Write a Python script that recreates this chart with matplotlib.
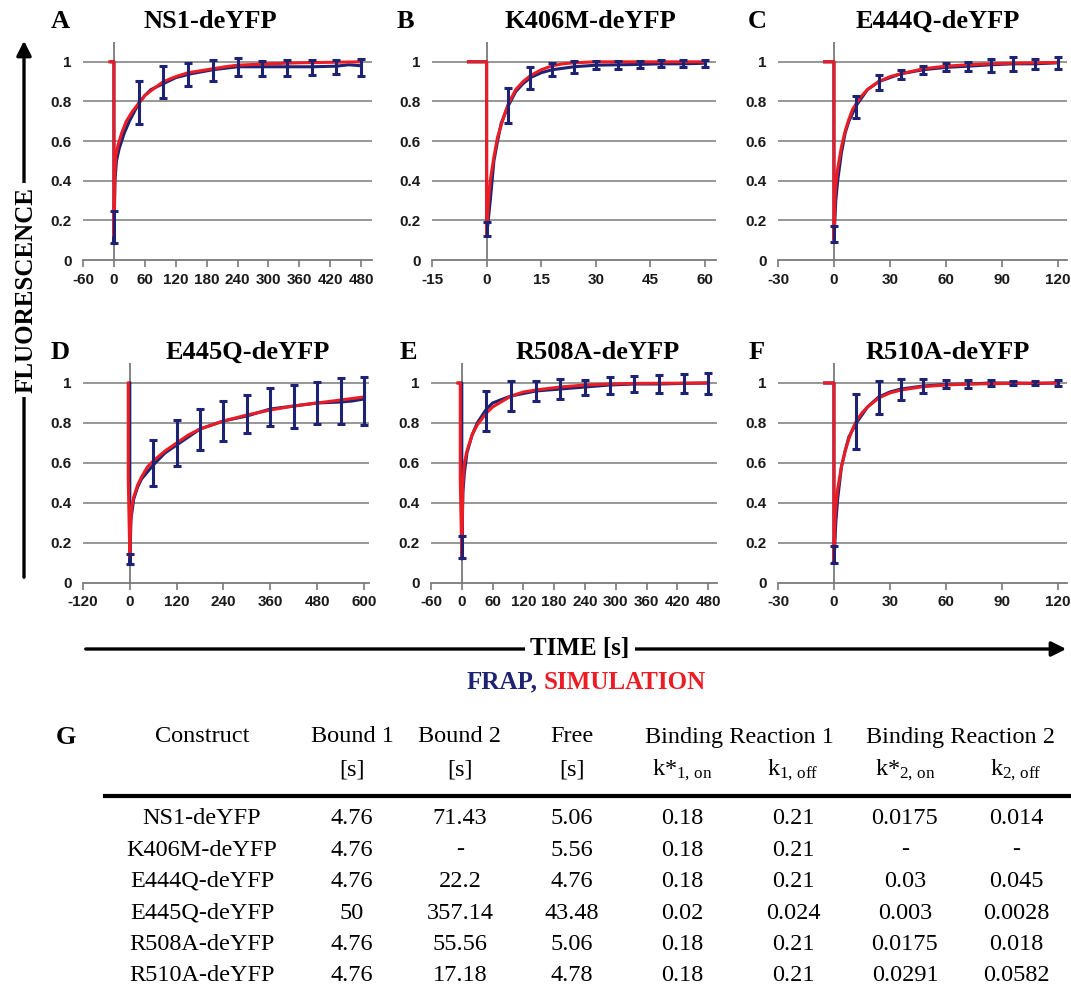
import matplotlib
matplotlib.use("Agg")
import matplotlib.pyplot as plt
from matplotlib.patches import FancyArrowPatch
from matplotlib.lines import Line2D

plt.rcParams['mathtext.fontset'] = 'custom'
plt.rcParams['mathtext.rm'] = 'Liberation Serif'
plt.rcParams['mathtext.it'] = 'Liberation Serif:italic'
plt.rcParams['mathtext.bf'] = 'Liberation Serif:bold'

# ---------------- data ----------------
titles = ["NS1-deYFP", "K406M-deYFP", "E444Q-deYFP", "E445Q-deYFP", "R508A-deYFP", "R510A-deYFP"]
letters = ["A", "B", "C", "D", "E", "F"]

# Panel A (NS1)
A_t_frap = [-5, 0, 0, 2, 5, 10, 20, 30, 48, 60, 72, 96, 120, 150, 192, 240, 288, 336, 384, 432, 456, 480]
A_frap = [1.0, 1.0, 0.09, 0.40, 0.50, 0.56, 0.64, 0.70, 0.79, 0.83, 0.86, 0.89, 0.92, 0.94, 0.96, 0.975, 0.975, 0.975, 0.975, 0.978, 0.985, 0.98]
A_t_sim = [-8, 0, 0, 2, 4, 8, 15, 24, 36, 48, 60, 80, 96, 120, 144, 180, 216, 240, 300, 360, 480]
A_sim = [1.0, 1.0, 0.12, 0.45, 0.53, 0.58, 0.64, 0.70, 0.75, 0.79, 0.83, 0.87, 0.90, 0.925, 0.945, 0.96, 0.975, 0.983, 0.99, 0.995, 1.0]
A_t_err = [0, 48, 96, 144, 192, 240, 288, 336, 384, 432, 480]
A_err_mean = [0.165, 0.795, 0.898, 0.937, 0.955, 0.974, 0.965, 0.97, 0.973, 0.974, 0.973]
A_err_sd = [0.08, 0.107, 0.08, 0.057, 0.053, 0.047, 0.037, 0.04, 0.038, 0.034, 0.043]
A_xticks = [-60, 0, 60, 120, 180, 240, 300, 360, 420, 480]

# Panel B (K406M)
B_t_frap = [-5, 0, 0, 1, 2, 3, 4, 6, 8, 10, 12, 15, 18, 24, 30, 36, 42, 48, 54, 60]
B_frap = [1.0, 1.0, 0.12, 0.30, 0.50, 0.60, 0.69, 0.78, 0.85, 0.89, 0.92, 0.945, 0.96, 0.975, 0.983, 0.985, 0.987, 0.99, 0.99, 0.993]
B_t_sim = [-5, 0, 0, 0.5, 1, 2, 3, 4, 5, 6, 8, 10, 12, 15, 18, 21, 24, 30, 60]
B_sim = [1.0, 1.0, 0.12, 0.30, 0.40, 0.52, 0.62, 0.68, 0.74, 0.79, 0.86, 0.90, 0.93, 0.96, 0.98, 0.99, 0.995, 1.0, 1.0]
B_t_err = [0, 6, 12, 18, 24, 30, 36, 42, 48, 54, 60]
B_err_mean = [0.155, 0.78, 0.92, 0.96, 0.974, 0.984, 0.985, 0.987, 0.99, 0.99, 0.993]
B_err_sd = [0.035, 0.09, 0.056, 0.034, 0.03, 0.02, 0.02, 0.017, 0.017, 0.017, 0.017]
B_xticks = [-15, 0, 15, 30, 45, 60]

# Panel C (E444Q)
C_t_frap = [-5, 0, 0, 1, 2, 4, 6, 8, 12, 18, 24, 30, 36, 48, 60, 72, 84, 96, 108, 120]
C_frap = [1.0, 1.0, 0.10, 0.30, 0.40, 0.54, 0.64, 0.70, 0.78, 0.86, 0.90, 0.92, 0.94, 0.96, 0.972, 0.978, 0.985, 0.99, 0.99, 0.995]
C_t_sim = [-5, 0, 0, 0.5, 1, 2, 4, 6, 8, 10, 12, 15, 18, 24, 30, 36, 48, 60, 72, 84, 96, 120]
C_sim = [1.0, 1.0, 0.10, 0.30, 0.38, 0.46, 0.57, 0.65, 0.71, 0.76, 0.79, 0.83, 0.86, 0.90, 0.925, 0.94, 0.965, 0.978, 0.985, 0.99, 0.993, 0.997]
C_t_err = [0, 12, 24, 36, 48, 60, 72, 84, 96, 108, 120]
C_err_mean = [0.13, 0.77, 0.898, 0.937, 0.96, 0.974, 0.975, 0.982, 0.99, 0.99, 0.995]
C_err_sd = [0.04, 0.055, 0.038, 0.024, 0.019, 0.021, 0.023, 0.034, 0.034, 0.026, 0.03]
C_xticks = [-30, 0, 30, 60, 90, 120]

# Panel D (E445Q)
D_t_frap = [0, 0, 3, 10, 20, 30, 60, 90, 120, 150, 180, 240, 300, 360, 420, 480, 540, 570, 600]
D_frap = [1.0, 0.10, 0.32, 0.42, 0.48, 0.52, 0.59, 0.65, 0.69, 0.73, 0.77, 0.81, 0.835, 0.87, 0.885, 0.90, 0.905, 0.91, 0.92]
D_t_sim = [-4, -4, 0, 2, 5, 10, 20, 30, 45, 60, 90, 120, 150, 180, 240, 300, 360, 420, 480, 540, 600]
D_sim = [1.0, 0.52, 0.13, 0.30, 0.38, 0.43, 0.49, 0.53, 0.58, 0.61, 0.66, 0.70, 0.74, 0.77, 0.81, 0.84, 0.865, 0.885, 0.90, 0.915, 0.93]
D_t_err = [0, 60, 120, 180, 240, 300, 360, 420, 480, 540, 600]
D_err_mean = [0.12, 0.598, 0.70, 0.767, 0.81, 0.844, 0.88, 0.883, 0.90, 0.91, 0.912]
D_err_sd = [0.024, 0.115, 0.113, 0.104, 0.102, 0.094, 0.094, 0.108, 0.107, 0.115, 0.12]
D_xticks = [-120, 0, 120, 240, 360, 480, 600]

# Panel E (R508A)
E_t_frap = [-5, 0, 0, 2, 5, 10, 20, 30, 48, 60, 80, 96, 144, 192, 240, 288, 336, 384, 432, 480]
E_frap = [1.0, 1.0, 0.12, 0.45, 0.55, 0.65, 0.74, 0.80, 0.87, 0.90, 0.92, 0.935, 0.96, 0.97, 0.98, 0.99, 0.995, 0.995, 0.998, 1.0]
E_t_sim = [-8, -3, -3, 0, 2, 5, 10, 20, 30, 48, 60, 96, 120, 144, 192, 240, 288, 336, 480]
E_sim = [1.0, 1.0, 0.52, 0.12, 0.50, 0.60, 0.66, 0.74, 0.79, 0.85, 0.88, 0.935, 0.955, 0.965, 0.98, 0.99, 0.995, 0.998, 1.0]
E_t_err = [0, 48, 96, 144, 192, 240, 288, 336, 384, 432, 480]
E_err_mean = [0.18, 0.86, 0.934, 0.96, 0.97, 0.978, 0.986, 0.995, 0.995, 0.998, 0.997]
E_err_sd = [0.053, 0.1, 0.074, 0.05, 0.048, 0.039, 0.042, 0.042, 0.045, 0.048, 0.053]
E_xticks = [-60, 0, 60, 120, 180, 240, 300, 360, 420, 480]

# Panel F (R510A)
F_t_frap = [-5, 0, 0, 1, 2, 4, 6, 8, 12, 18, 24, 30, 36, 48, 60, 72, 84, 96, 108, 120]
F_frap = [1.0, 1.0, 0.10, 0.30, 0.42, 0.58, 0.66, 0.73, 0.80, 0.88, 0.93, 0.955, 0.97, 0.985, 0.993, 0.995, 1.0, 1.0, 0.998, 1.0]
F_t_sim = [-5, 0, 0, 0.5, 1, 2, 4, 6, 8, 10, 12, 15, 18, 24, 30, 36, 48, 60, 72, 96, 120]
F_sim = [1.0, 1.0, 0.11, 0.30, 0.38, 0.47, 0.58, 0.66, 0.72, 0.77, 0.81, 0.85, 0.88, 0.925, 0.95, 0.965, 0.982, 0.99, 0.995, 0.998, 1.0]
F_t_err = [0, 12, 24, 36, 48, 60, 72, 84, 96, 108, 120]
F_err_mean = [0.142, 0.808, 0.928, 0.968, 0.985, 0.996, 0.996, 1.0, 1.0, 0.998, 1.0]
F_err_sd = [0.042, 0.139, 0.083, 0.052, 0.035, 0.021, 0.021, 0.017, 0.008, 0.01, 0.017]
F_xticks = [-30, 0, 30, 60, 90, 120]

y_ticks = [0, 0.2, 0.4, 0.6, 0.8, 1.0]
y_ticklabels = ["0", "0.2", "0.4", "0.6", "0.8", "1"]

# Table G
tbl_construct = ["NS1-deYFP", "K406M-deYFP", "E444Q-deYFP", "E445Q-deYFP", "R508A-deYFP", "R510A-deYFP"]
tbl_bound1 = ["4.76", "4.76", "4.76", "50", "4.76", "4.76"]
tbl_bound2 = ["71.43", "-", "22.2", "357.14", "55.56", "17.18"]
tbl_free = ["5.06", "5.56", "4.76", "43.48", "5.06", "4.78"]
tbl_k1on = ["0.18", "0.18", "0.18", "0.02", "0.18", "0.18"]
tbl_k1off = ["0.21", "0.21", "0.21", "0.024", "0.21", "0.21"]
tbl_k2on = ["0.0175", "-", "0.03", "0.003", "0.0175", "0.0291"]
tbl_k2off = ["0.014", "-", "0.045", "0.0028", "0.018", "0.0582"]

# ---------------- layout / style ----------------
W, H = 1071, 988
NAVY = '#1d2372'
RED = '#ec1c24'
AXC = '#7a7a7a'
SERIF = 'Liberation Serif'
SANS = 'Liberation Sans'

fig = plt.figure(figsize=(W / 100, H / 100), dpi=100)


def fx(x):
    return x / W


def fy(y):
    return 1 - y / H


panel_data = [
    (A_t_frap, A_frap, A_t_sim, A_sim, A_t_err, A_err_mean, A_err_sd, A_xticks),
    (B_t_frap, B_frap, B_t_sim, B_sim, B_t_err, B_err_mean, B_err_sd, B_xticks),
    (C_t_frap, C_frap, C_t_sim, C_sim, C_t_err, C_err_mean, C_err_sd, C_xticks),
    (D_t_frap, D_frap, D_t_sim, D_sim, D_t_err, D_err_mean, D_err_sd, D_xticks),
    (E_t_frap, E_frap, E_t_sim, E_sim, E_t_err, E_err_mean, E_err_sd, E_xticks),
    (F_t_frap, F_frap, F_t_sim, F_sim, F_t_err, F_err_mean, F_err_sd, F_xticks),
]
# (left px, right px, y0 px, ytop px, xlim)
panel_geom = [
    (83, 372, 260, 42, (-60, 501)),
    (432, 716, 260, 42, (-15, 63)),
    (778, 1067, 260, 42, (-30, 125)),
    (83, 369, 583, 363, (-120, 613)),
    (431, 717, 583, 363, (-60, 497)),
    (778, 1067, 583, 363, (-30, 125)),
]
title_pos = [(210, 21), (590, 21), (938, 21), (248, 352), (598, 352), (948, 352)]
letter_pos = [(60, 21), (405, 21), (757, 21), (60, 352), (408, 352), (757, 352)]

for i, (d, g) in enumerate(zip(panel_data, panel_geom)):
    tf, f, ts, s, te, em, es, xt = d
    left, right, y0, ytop, xl = g
    ax = fig.add_axes([fx(left), fy(y0), (right - left) / W, (y0 - ytop) / H])
    ax.set_xlim(*xl)
    ax.set_ylim(0, 1.1)
    for sp in ['top', 'right', 'left']:
        ax.spines[sp].set_visible(False)
    ax.spines['bottom'].set_color(AXC)
    ax.spines['bottom'].set_linewidth(1.3)
    ax.set_yticks(y_ticks)
    ax.set_yticklabels(y_ticklabels)
    ax.set_xticks(xt)
    ax.set_xticklabels([str(v) for v in xt])
    ax.tick_params(axis='y', length=0, pad=8)
    ax.tick_params(axis='x', length=5, width=1.2, color=AXC, direction='out', pad=4)
    for lab in ax.get_xticklabels() + ax.get_yticklabels():
        lab.set_fontfamily(SANS)
        lab.set_fontweight('bold')
        lab.set_fontsize(11)
        lab.set_color('#1a1a1a')
    for yv in y_ticks[1:]:
        ax.axhline(yv, color=AXC, lw=1.1, zorder=1)
    ax.axvline(0, color=AXC, lw=1.3, zorder=1)
    ax.plot(tf, f, color=NAVY, lw=2.2, zorder=3, solid_joinstyle='round')
    ax.plot(ts, s, color=RED, lw=2.2, zorder=4, solid_joinstyle='round')
    ax.errorbar(te, em, yerr=es, fmt='none', ecolor=NAVY, elinewidth=2.2,
                capsize=3, capthick=2.2, zorder=5)

    tx, ty = title_pos[i]
    fig.text(fx(tx), fy(ty), titles[i], ha='center', va='center',
             family=SERIF, weight='bold', fontsize=19)
    lx, ly = letter_pos[i]
    fig.text(fx(lx), fy(ly), letters[i], ha='center', va='center',
             family=SERIF, weight='bold', fontsize=19)

# Vertical FLUORESCENCE arrow
fig.add_artist(FancyArrowPatch((fx(24), fy(580)), (fx(24), fy(38)), transform=fig.transFigure,
                               arrowstyle='-|>', mutation_scale=22, lw=2.4, color='black'))
fig.text(fx(26), fy(290), "FLUORESCENCE", rotation=90, ha='center', va='center',
         family=SERIF, weight='bold', fontsize=18,
         bbox=dict(boxstyle='square,pad=0.15', fc='white', ec='none'))

# Horizontal TIME arrow
fig.add_artist(FancyArrowPatch((fx(83), fy(649)), (fx(1069), fy(649)), transform=fig.transFigure,
                               arrowstyle='-|>', mutation_scale=22, lw=2.4, color='black'))
fig.text(fx(580), fy(649), "TIME [s]", ha='center', va='center',
         family=SERIF, weight='bold', fontsize=18,
         bbox=dict(boxstyle='square,pad=0.2', fc='white', ec='none'))
fig.text(fx(538), fy(682), "FRAP,", ha='right', va='center', color=NAVY,
         family=SERIF, weight='bold', fontsize=18)
fig.text(fx(544), fy(682), "SIMULATION", ha='left', va='center', color=RED,
         family=SERIF, weight='bold', fontsize=18)

# ---------------- Table G ----------------
TFS = 17.5
fig.text(fx(66), fy(737), "G", ha='center', va='center', family=SERIF, weight='bold', fontsize=19)
col_x = [202, 352, 460, 572, 682, 793, 905, 1016]
hdr1 = [(202, "Construct"), (352, "Bound 1"), (460, "Bound 2"), (572, "Free"),
        (739, "Binding Reaction 1"), (960, "Binding Reaction 2")]
for x, t in hdr1:
    fig.text(fx(x), fy(737), t, ha='center', va='center', family=SERIF, fontsize=TFS)
hdr2 = ["[s]", "[s]", "[s]",
        r"k*$_{\mathrm{1,\,on}}$", r"k$_{\mathrm{1,\,off}}$",
        r"k*$_{\mathrm{2,\,on}}$", r"k$_{\mathrm{2,\,off}}$"]
for x, t in zip(col_x[1:], hdr2):
    fig.text(fx(x), fy(770), t, ha='center', va='center', family=SERIF, fontsize=TFS)
fig.add_artist(Line2D([fx(105), fx(1071)], [fy(796), fy(796)], transform=fig.transFigure,
                      color='black', lw=3))
row_y = [818, 850, 881, 913, 944, 975]
cols = [tbl_construct, tbl_bound1, tbl_bound2, tbl_free, tbl_k1on, tbl_k1off, tbl_k2on, tbl_k2off]
for ci, col in enumerate(cols):
    for ri, val in enumerate(col):
        fig.text(fx(col_x[ci]), fy(row_y[ri]), val, ha='center', va='center',
                 family=SERIF, fontsize=TFS)

fig.savefig("out.png", dpi=100, facecolor='white')
